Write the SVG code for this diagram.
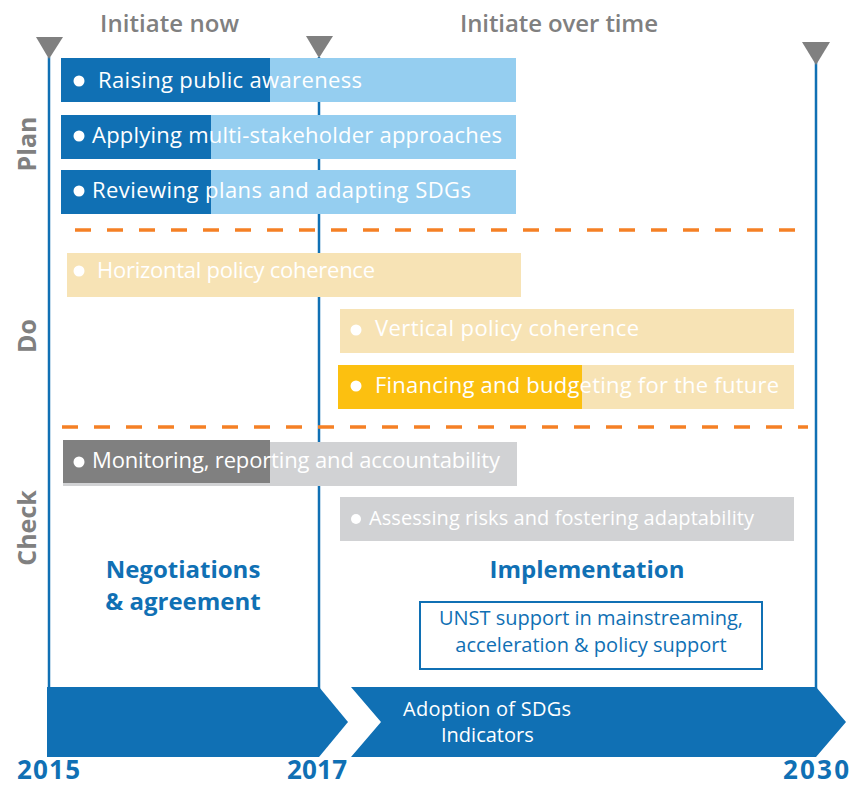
<svg xmlns="http://www.w3.org/2000/svg" width="856" height="785" viewBox="0 0 856 785">
<style>
text{font-family:"Open Sans","Liberation Sans",sans-serif}
.hd{font-size:24px;font-weight:600;fill:#808080}
.side{font-size:25px;font-weight:700;fill:#808080}
.bt{font-size:22px;fill:#fff}
.blue{fill:#1070B4}
.vl{stroke:#1070B4;stroke-width:2.5;fill:none}
.tri{fill:#808080}
.dash{stroke:#F58025;stroke-width:3.5;stroke-dasharray:16 16;fill:none}
.yr{font-size:26px;font-weight:700;fill:#1070B4}
.ttl{font-size:24px;font-weight:700;fill:#1070B4;text-anchor:middle}
</style>
<rect width="856" height="785" fill="#fff"/>
<g id="timeline">
<line class="vl" x1="49" y1="57" x2="49" y2="690"/>
<line class="vl" x1="319" y1="57" x2="319" y2="690"/>
<line class="vl" x1="816" y1="62" x2="816" y2="690"/>
<polygon class="tri" points="36,37 63,37 49,59"/>
<polygon class="tri" points="306,36 333,36 319,58"/>
<polygon class="tri" points="802,42 830,42 816,65"/>
<text class="hd" x="100" y="32" textLength="139">Initiate now</text>
<text class="hd" x="460" y="32" textLength="198">Initiate over time</text>
</g>
<g id="labels">
<text class="side" transform="translate(36,144) rotate(-90)" text-anchor="middle">Plan</text>
<text class="side" transform="translate(36,336) rotate(-90)" text-anchor="middle">Do</text>
<text class="side" transform="translate(36,528) rotate(-90)" text-anchor="middle">Check</text>
</g>
<g id="connectors">
<line class="dash" x1="75" y1="230" x2="802" y2="230"/>
<line class="dash" x1="62" y1="427" x2="808" y2="427"/>
</g>
<g id="plan-1">
<rect x="61" y="58" width="455" height="44" fill="#95CEF0"/>
<rect x="61" y="58" width="209" height="44" fill="#1070B4"/>
<circle cx="79" cy="81" r="5.5" fill="#fff"/>
<text class="bt" x="98" y="88" textLength="264">Raising public awareness</text>
</g>
<g id="plan-2">
<rect x="61" y="115" width="455" height="44" fill="#95CEF0"/>
<rect x="61" y="115" width="150" height="44" fill="#1070B4"/>
<circle cx="79" cy="136" r="5.5" fill="#fff"/>
<text class="bt" x="92" y="143" textLength="410">Applying multi-stakeholder approaches</text>
</g>
<g id="plan-3">
<rect x="61" y="170" width="455" height="44" fill="#95CEF0"/>
<rect x="61" y="170" width="150" height="44" fill="#1070B4"/>
<circle cx="79" cy="191" r="5.5" fill="#fff"/>
<text class="bt" x="92" y="198" textLength="379">Reviewing plans and adapting SDGs</text>
</g>
<g id="do-1">
<rect x="67" y="253" width="454" height="44" fill="#F7E3B5"/>
<circle cx="79" cy="271" r="5.5" fill="#fff"/>
<text class="bt" x="97" y="278" textLength="278">Horizontal policy coherence</text>
</g>
<g id="do-2">
<rect x="340" y="309" width="454" height="44" fill="#F7E3B5"/>
<circle cx="356" cy="330" r="5.5" fill="#fff"/>
<text class="bt" x="375" y="336" textLength="264">Vertical policy coherence</text>
</g>
<g id="do-3">
<rect x="338" y="365" width="456" height="44" fill="#F7E3B5"/>
<rect x="338" y="365" width="244" height="44" fill="#FCC010"/>
<circle cx="356" cy="386" r="5.5" fill="#fff"/>
<text class="bt" x="375" y="393" textLength="404">Financing and budgeting for the future</text>
</g>
<g id="check-1">
<rect x="63" y="442" width="454" height="44" fill="#D1D2D4"/>
<rect x="63" y="440" width="207" height="43" fill="#808080"/>
<circle cx="79" cy="462" r="5.5" fill="#fff"/>
<text class="bt" x="92" y="468" textLength="408">Monitoring, reporting and accountability</text>
</g>
<g id="check-2">
<rect x="340" y="497" width="454" height="44" fill="#D1D2D4"/>
<circle cx="356" cy="519" r="5" fill="#fff"/>
<text class="bt" x="369" y="525" style="font-size:20px" textLength="385">Assessing risks and fostering adaptability</text>
</g>
<g id="negotiations">
<text class="ttl" x="183" y="578">Negotiations</text>
<text class="ttl" x="183" y="610">&amp; agreement</text>
</g>
<g id="implementation">
<text class="ttl" x="587" y="578">Implementation</text>
</g>
<g id="unst">
<rect x="420" y="602" width="342" height="67" fill="#fff" stroke="#1070B4" stroke-width="2"/>
<text x="591" y="625" text-anchor="middle" style="font-size:20px" class="blue">UNST support in mainstreaming,</text>
<text x="591" y="652" text-anchor="middle" style="font-size:20px" class="blue">acceleration &amp; policy support</text>
</g>
<g id="arrow-1">
<polygon points="47,687 319,687 348,722 319,757 47,757" fill="#1070B4"/>
</g>
<g id="arrow-2">
<polygon points="351,687 816,687 846,722 816,757 351,757 381,722" fill="#1070B4"/>
<text x="403" y="716" style="font-size:20px;fill:#fff" textLength="168">Adoption of SDGs</text>
<text x="441" y="742" style="font-size:20px;fill:#fff">Indicators</text>
</g>
<g id="years">
<text class="yr" x="17" y="779" textLength="63">2015</text>
<text class="yr" x="287" y="779" textLength="60">2017</text>
<text class="yr" x="783" y="779" textLength="66">2030</text>
</g>
</svg>
